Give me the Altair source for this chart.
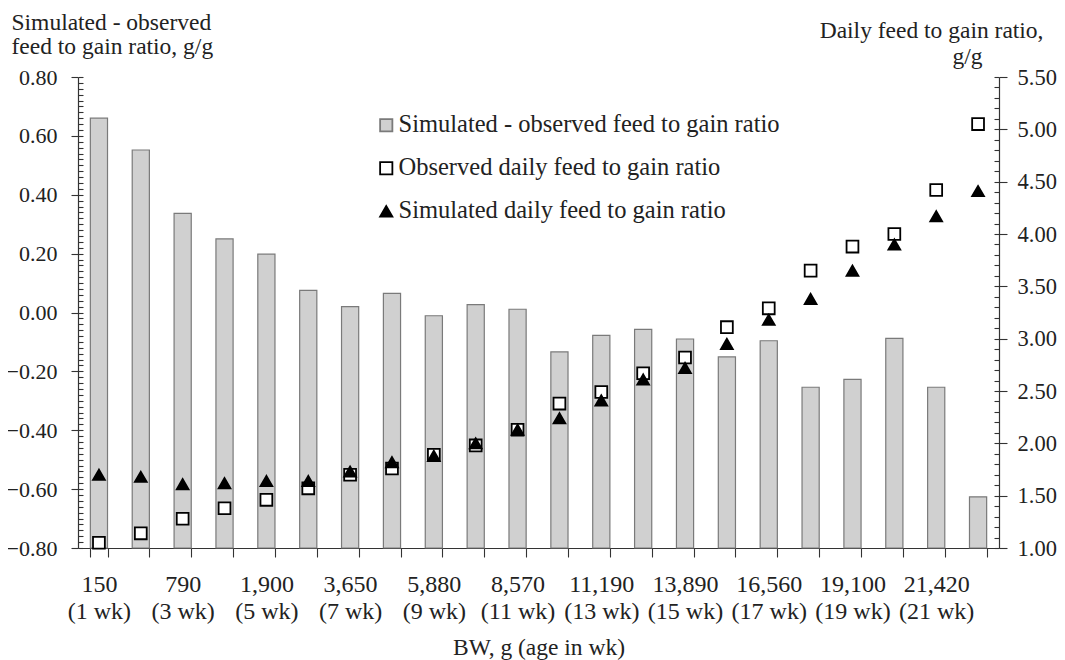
import altair as alt
import pandas as pd

# ---------------- data ----------------
weeks = list(range(1, 23))
diff_values = [0.66, 0.552, 0.337, 0.25, 0.198, 0.075, 0.02, 0.065, -0.011, 0.027, 0.011,
               -0.134, -0.078, -0.057, -0.09, -0.151, -0.096, -0.254, -0.227, -0.088, -0.254, -0.626]
observed_values = [1.05, 1.14, 1.28, 1.38, 1.46, 1.57, 1.70, 1.76, 1.89, 1.98, 2.13,
                   2.38, 2.49, 2.67, 2.82, 3.11, 3.29, 3.65, 3.88, 4.00, 4.42, 5.05]
simulated_values = [1.70, 1.68, 1.61, 1.62, 1.64, 1.64, 1.73, 1.82, 1.88, 2.00, 2.13,
                    2.24, 2.41, 2.61, 2.72, 2.95, 3.18, 3.38, 3.65, 3.90, 4.17, 4.41]
bw_labels = ["150", "790", "1,900", "3,650", "5,880", "8,570", "11,190",
             "13,890", "16,560", "19,100", "21,420"]
series_names = ["Simulated - observed feed to gain ratio",
                "Observed daily feed to gain ratio",
                "Simulated daily feed to gain ratio"]
left_major = [-0.8, -0.6, -0.4, -0.2, 0.0, 0.2, 0.4, 0.6, 0.8]
left_minor = [round(-0.8 + 0.02 * i, 2) for i in range(81)]
right_major = [1.0, 1.5, 2.0, 2.5, 3.0, 3.5, 4.0, 4.5, 5.0, 5.5]
right_minor = [round(1.0 + 0.1 * i, 1) for i in range(46)]

FONT = "Liberation Serif, Times New Roman, Times, serif"
TXT = "#222222"

bars_df = pd.DataFrame({"week": weeks, "value": diff_values, "series": series_names[0]})
points_df = pd.concat([
    pd.DataFrame({"week": weeks, "ratio": observed_values, "series": series_names[1]}),
    pd.DataFrame({"week": weeks, "ratio": simulated_values, "series": series_names[2]}),
], ignore_index=True)

bw_js = "[" + ",".join("'" + b + "'" for b in bw_labels) + "]"
label_expr = ("datum.value % 2 == 1 ? [" + bw_js + "[(datum.value - 1) / 2], "
              "'(' + datum.value + ' wk)'] : ''")

x_enc = alt.X(
    "week:O",
    scale=alt.Scale(paddingInner=0.59, paddingOuter=0.295),
    axis=alt.Axis(
        title="BW, g (age in wk)",
        labelExpr=label_expr,
        labelAngle=0,
        labelBaseline="top",
        labelPadding=15,
        labelLineHeight=27,
        labelFontSize=24,
        labelOverlap=False,
        tickBand="extent",
        tickSize=9,
        titleY=106,
        titleFontSize=23.5,
        titleBaseline="alphabetic",
        titlePadding=0,
    ),
)

leg = alt.Legend(orient="none", legendX=296, legendY=36, title=None)
fill_scale = alt.Scale(domain=series_names, range=["#d0d0d0", "white", "black"])
shape_scale = alt.Scale(domain=series_names, range=["square", "square", "triangle-up"])
stroke_scale = alt.Scale(domain=series_names, range=["#7a7a7a", "black", "black"])

left_scale = alt.Scale(domain=[-0.8, 0.8], nice=False, zero=False)
right_scale = alt.Scale(domain=[1.0, 5.5], nice=False, zero=False)

bars = alt.Chart(bars_df).mark_bar(stroke="#7a7a7a", strokeWidth=1.2).encode(
    x=x_enc,
    y=alt.Y("value:Q", scale=left_scale,
            axis=alt.Axis(orient="left", values=left_major, format=".2f",
                          tickSize=7, labelPadding=14, labelFontSize=22,
                          title=["Simulated - observed", "feed to gain ratio, g/g"],
                          titleFontSize=23.5,
                          titleAngle=0, titleAlign="left", titleBaseline="alphabetic",
                          titleX=-67, titleY=-48, titleLineHeight=24)),
    y2=alt.datum(-0.8),
    fill=alt.Fill("series:N", scale=fill_scale, legend=leg),
)

left_minor_layer = alt.Chart(bars_df).mark_point(opacity=0).encode(
    x=x_enc,
    y=alt.Y("value:Q", scale=left_scale,
            axis=alt.Axis(orient="left", values=left_minor, labels=False, domain=False,
                          tickSize=5, offset=-5, title=None)),
)

points = alt.Chart(points_df).mark_point(filled=True, size=140, strokeWidth=1.8, opacity=1).encode(
    x=x_enc,
    y=alt.Y("ratio:Q", scale=right_scale,
            axis=alt.Axis(orient="right", values=right_major, format=".2f",
                          tickSize=8, labelPadding=10, labelFontSize=22.5,
                          title="Daily feed to gain ratio,", titleFontSize=23.5,
                          titleAngle=0, titleAlign="right", titleBaseline="alphabetic",
                          titleX=44, titleY=-40)),
    fill=alt.Fill("series:N", scale=fill_scale, legend=leg),
    shape=alt.Shape("series:N", scale=shape_scale, legend=leg),
    stroke=alt.Stroke("series:N", scale=stroke_scale, legend=leg),
)

right_minor_layer = alt.Chart(points_df).mark_point(opacity=0).encode(
    x=x_enc,
    y=alt.Y("ratio:Q", scale=right_scale,
            axis=alt.Axis(orient="right", values=right_minor, labels=False, domain=False,
                          tickSize=5, offset=-5, title="g/g", titleFontSize=23.5,
                          titleAngle=0, titleAlign="right", titleBaseline="alphabetic",
                          titleX=-12, titleY=-14)),
)

chart = alt.layer(bars, left_minor_layer, points, right_minor_layer).resolve_scale(
    y="independent"
).properties(
    width=921,
    height=471,
    autosize=alt.AutoSizeParams(type="none"),
    padding={"left": 70, "top": 69, "right": 58, "bottom": 112},
).configure_view(
    stroke=None
).configure_axis(
    labelFont=FONT, titleFont=FONT, labelFontSize=22.5, titleFontSize=23.5,
    labelColor=TXT, titleColor=TXT, titleFontWeight="normal",
    domainColor="#333333", tickColor="#333333", domainWidth=1.2, tickWidth=1.1,
    grid=False,
).configure_legend(
    labelFont=FONT, labelFontSize=24.5, labelColor=TXT, labelLimit=0,
    symbolSize=150, symbolStrokeWidth=1.8, rowPadding=18, labelOffset=0, padding=0,
)

chart.save("out.html", embed_options={"renderer": "svg", "actions": False})
